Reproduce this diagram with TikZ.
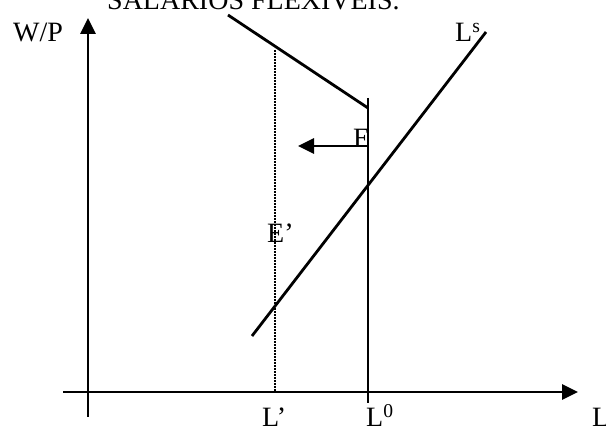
\documentclass[tikz,border=0pt]{standalone}
\usepackage{fontspec}
\setmainfont{Liberation Serif}
\usetikzlibrary{arrows.meta}

\begin{document}
\begin{tikzpicture}[x=1pt,y=1pt,
    axis/.style={line width=2.8pt,-{Triangle[length=16pt,width=15pt]}},
    curve/.style={line width=2.8pt},
    guide/.style={line width=2pt,dash pattern=on 1.6pt off 1.4pt},
    lbl/.style={anchor=base west,inner sep=0pt,font=\fontsize{28}{32}\selectfont}]
  \useasboundingbox (0,0) rectangle (606,426);
  \def\xO{88}
  \def\yO{34}
  \def\xL{368} % L^0
  \def\xLp{275} % L'

  % axes
  \coordinate (ybot) at (\xO,9);
  \coordinate (ytop) at (\xO,408);
  \coordinate (xleft) at (63,\yO);
  \coordinate (xright) at (578,\yO);
  \draw[axis] (ybot) -- (ytop);
  \draw[axis] (xleft) -- (xright);

  % labour demand with rigid floor at L^0
  \coordinate (dtop) at (228,411);
  \coordinate (dkink) at (\xL,318);
  \coordinate (vtop) at (\xL,328);
  \coordinate (vbot) at (\xL,23);
  \draw[curve] (dtop) -- (dkink);
  \draw[curve] (vtop) -- (vbot);

  % supply
  \coordinate (sbot) at (252,90);
  \coordinate (stop) at (486,394);
  \draw[curve] (sbot) -- (stop);

  % L' guide
  \coordinate (gtop) at (\xLp,376);
  \coordinate (gbot) at (\xLp,\yO);
  \draw[guide] (gtop) -- (gbot);

  % shift
  \coordinate (shfrom) at (367,280);
  \coordinate (shto) at (298,280);
  \draw[axis] (shfrom) -- (shto);

  % labels
  \node[lbl] (title) at (107,416) {SALARIOS FLEXIVEIS.};
  \node[lbl] (wp) at (13,384) {W/P};
  \node[lbl] (ls) at (455,384) {L\textsuperscript{s}};
  \node[lbl] (e) at (353,278) {E};
  \node[lbl] (ep) at (267,183) {E’};
  \node[lbl] (lp) at (262,-1) {L’};
  \node[lbl] (l0) at (366,-1) {L\textsuperscript{0}};
  \node[lbl] (l) at (592,-1) {L};
\end{tikzpicture}
\end{document}
